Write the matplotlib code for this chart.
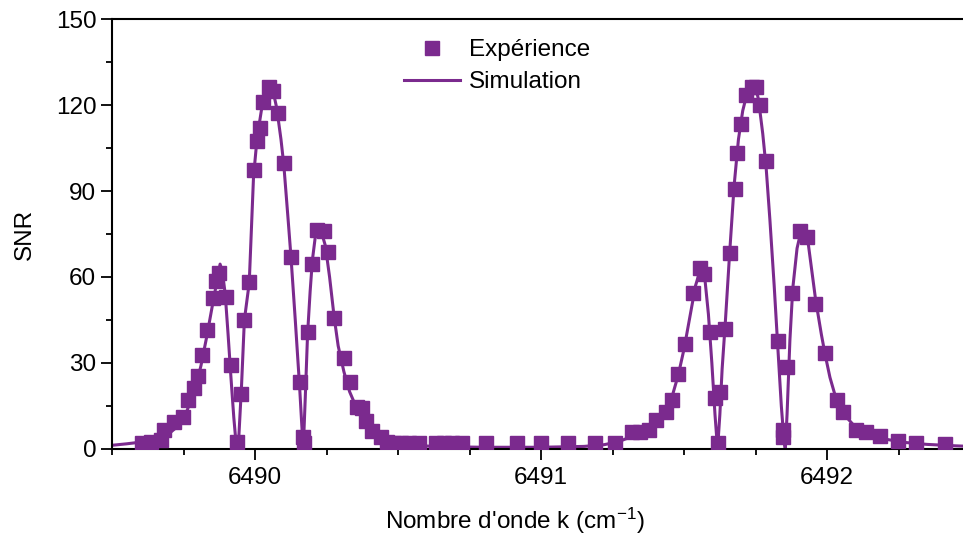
import matplotlib
matplotlib.use("Agg")
import matplotlib.pyplot as plt
from matplotlib.ticker import MultipleLocator

plt.rcParams['font.family'] = ['Liberation Sans', 'DejaVu Sans']
plt.rcParams['mathtext.fontset'] = 'custom'
plt.rcParams['mathtext.rm'] = 'Liberation Sans'
plt.rcParams['mathtext.it'] = 'Liberation Sans:italic'
plt.rcParams['mathtext.default'] = 'regular'

# Experimental points (wavenumber, SNR)
exp_k = [6489.604, 6489.636, 6489.671, 6489.682, 6489.717, 6489.746, 6489.766, 6489.785,
         6489.799, 6489.813, 6489.830, 6489.851, 6489.863, 6489.874, 6489.898, 6489.915,
         6489.936, 6489.950, 6489.962, 6489.979, 6489.994, 6490.006, 6490.015, 6490.026,
         6490.049, 6490.061, 6490.078, 6490.101, 6490.125, 6490.157, 6490.166, 6490.172,
         6490.183, 6490.200, 6490.217, 6490.239, 6490.253, 6490.276, 6490.309, 6490.332,
         6490.356, 6490.375, 6490.387, 6490.410, 6490.439, 6490.462, 6490.486, 6490.509,
         6490.537, 6490.572, 6490.631, 6490.659, 6490.687, 6490.724, 6490.806, 6490.917,
         6491.001, 6491.093, 6491.187, 6491.260, 6491.318, 6491.347, 6491.376, 6491.400,
         6491.435, 6491.458, 6491.479, 6491.504, 6491.531, 6491.554, 6491.568, 6491.592,
         6491.609, 6491.617, 6491.627, 6491.644, 6491.659, 6491.677, 6491.685, 6491.700,
         6491.717, 6491.737, 6491.752, 6491.764, 6491.787, 6491.827, 6491.846, 6491.846,
         6491.860, 6491.877, 6491.906, 6491.929, 6491.959, 6491.993, 6492.033, 6492.057,
         6492.102, 6492.136, 6492.185, 6492.247, 6492.311, 6492.413]
exp_snr = [2.1, 2.4, 3.1, 6.6, 9.5, 11.1, 17.1, 21.2,
           25.4, 32.8, 41.5, 52.5, 58.6, 61.3, 53.1, 29.3,
           2.5, 19.3, 44.9, 58.3, 97.3, 107.4, 111.9, 121.1,
           126.4, 125.0, 117.1, 99.9, 67.1, 23.5, 4.3, 2.1,
           40.9, 64.7, 76.4, 76.0, 68.8, 45.7, 31.6, 23.3,
           14.7, 14.2, 9.7, 6.2, 4.3, 2.5, 2.0, 2.0,
           2.0, 2.0, 2.0, 2.0, 2.0, 2.0, 2.0, 2.0,
           2.0, 2.0, 2.0, 2.0, 6.0, 6.0, 6.6, 10.1,
           13.0, 17.1, 26.0, 36.5, 54.3, 63.1, 60.9, 40.9,
           17.7, 2.0, 19.9, 41.7, 68.5, 90.6, 103.1, 113.2,
           123.5, 126.2, 126.4, 119.9, 100.4, 37.7, 6.7, 4.2,
           28.6, 54.3, 76.1, 74.0, 50.5, 33.4, 17.1, 12.9,
           6.6, 5.8, 4.7, 2.9, 2.0, 1.7]

# Simulation curve (wavenumber, SNR)
sim_k = [6489.50, 6489.55, 6489.60, 6489.65, 6489.70, 6489.73, 6489.76, 6489.79, 6489.81,
         6489.83, 6489.85, 6489.865, 6489.877, 6489.885, 6489.895, 6489.905, 6489.915,
         6489.925, 6489.932, 6489.937, 6489.943, 6489.952, 6489.962, 6489.979, 6489.994,
         6490.006, 6490.015, 6490.026, 6490.040, 6490.052, 6490.062, 6490.075, 6490.090,
         6490.100, 6490.115, 6490.125, 6490.140, 6490.155, 6490.163, 6490.168, 6490.175,
         6490.183, 6490.192, 6490.200, 6490.210, 6490.220, 6490.232, 6490.245, 6490.260,
         6490.276, 6490.290, 6490.310, 6490.330, 6490.360, 6490.390, 6490.420, 6490.460,
         6490.500, 6490.560, 6490.650, 6490.800, 6491.000, 6491.150, 6491.220, 6491.270,
         6491.320, 6491.360, 6491.400, 6491.430, 6491.460, 6491.480, 6491.500, 6491.520,
         6491.540, 6491.555, 6491.563, 6491.572, 6491.585, 6491.597, 6491.608, 6491.617,
         6491.625, 6491.633, 6491.644, 6491.659, 6491.675, 6491.690, 6491.705, 6491.720,
         6491.735, 6491.748, 6491.760, 6491.775, 6491.787, 6491.800, 6491.815, 6491.828,
         6491.840, 6491.850, 6491.854, 6491.860, 6491.870, 6491.880, 6491.895, 6491.910,
         6491.922, 6491.935, 6491.960, 6491.980, 6491.993, 6492.010, 6492.033, 6492.060,
         6492.100, 6492.150, 6492.200, 6492.270, 6492.350, 6492.450, 6492.500]
sim_snr = [1.3, 1.8, 2.4, 3.5, 5.5, 8.0, 13.0, 21.0, 29.0,
           39.0, 50.0, 58.0, 64.5, 62.0, 54.0, 40.0, 25.0,
           11.0, 3.0, 0.0, 5.0, 22.0, 45.0, 58.0, 95.0,
           108.0, 114.0, 121.0, 125.5, 126.5, 125.0, 119.0, 108.0,
           99.0, 80.0, 67.0, 45.0, 22.0, 8.0, 0.0, 18.0,
           40.0, 55.0, 66.0, 74.0, 77.0, 75.5, 71.0, 60.0,
           46.0, 36.0, 27.0, 20.0, 13.0, 8.5, 5.5, 3.2,
           2.0, 1.2, 0.8, 0.6, 0.6, 0.9, 1.5, 2.5,
           4.5, 7.0, 10.0, 13.5, 19.0, 26.0, 35.0, 46.0,
           57.0, 62.0, 63.5, 60.0, 47.0, 30.0, 12.0, 0.0,
           12.0, 28.0, 44.0, 68.0, 92.0, 108.0, 118.0, 124.0,
           126.5, 127.0, 122.0, 110.0, 98.0, 80.0, 57.0, 35.0,
           15.0, 2.0, 0.0, 12.0, 38.0, 56.0, 70.0, 76.5,
           76.0, 71.0, 52.0, 40.0, 33.0, 25.0, 17.0, 12.0,
           7.5, 5.0, 3.5, 2.3, 1.6, 1.1, 0.9]

x_ticks = [6490, 6491, 6492]
y_ticks = [0, 30, 60, 90, 120, 150]

color = '#7B2A8E'
fs = 17.5

fig = plt.figure(figsize=(9.63, 5.37), dpi=100)
ax = fig.add_axes([0.1166, 0.1639, 0.8907, 0.8007])

ax.plot(sim_k, sim_snr, color=color, lw=2.2, label='Simulation', zorder=2)
ax.plot(exp_k, exp_snr, ls='none', marker='s', ms=9.5, color=color,
        mec=color, label='Expérience', zorder=3)

ax.set_xlim(6489.5, 6492.5)
ax.set_ylim(0, 150)
ax.set_xticks(x_ticks)
ax.set_xticklabels([str(t) for t in x_ticks])
ax.set_yticks(y_ticks)
ax.set_yticklabels([str(t) for t in y_ticks])
ax.xaxis.set_minor_locator(MultipleLocator(0.25))
ax.yaxis.set_minor_locator(MultipleLocator(15))

ax.tick_params(which='major', direction='out', length=8, width=1.3, labelsize=fs,
               top=False, right=False)
ax.tick_params(axis='x', which='major', pad=5)
ax.tick_params(which='minor', direction='out', length=4.5, width=1.3,
               top=False, right=False)
for s in ['left', 'bottom', 'top']:
    ax.spines[s].set_linewidth(1.5)
ax.spines['right'].set_visible(False)

ax.set_xlabel(r"Nombre d'onde k (cm$^{-1}$)", fontsize=fs)
ax.xaxis.set_label_coords(0.4695, -0.133)
ax.set_ylabel('SNR', fontsize=fs, labelpad=14)

handles, labels = ax.get_legend_handles_labels()
order = [1, 0]
leg = ax.legend([handles[i] for i in order], [labels[i] for i in order],
                loc='upper left', bbox_to_anchor=(0.329, 0.975), frameon=False,
                fontsize=fs, handlelength=2.3, handletextpad=0.35, labelspacing=0.4,
                borderaxespad=0)

fig.savefig('out.png', dpi=100)
